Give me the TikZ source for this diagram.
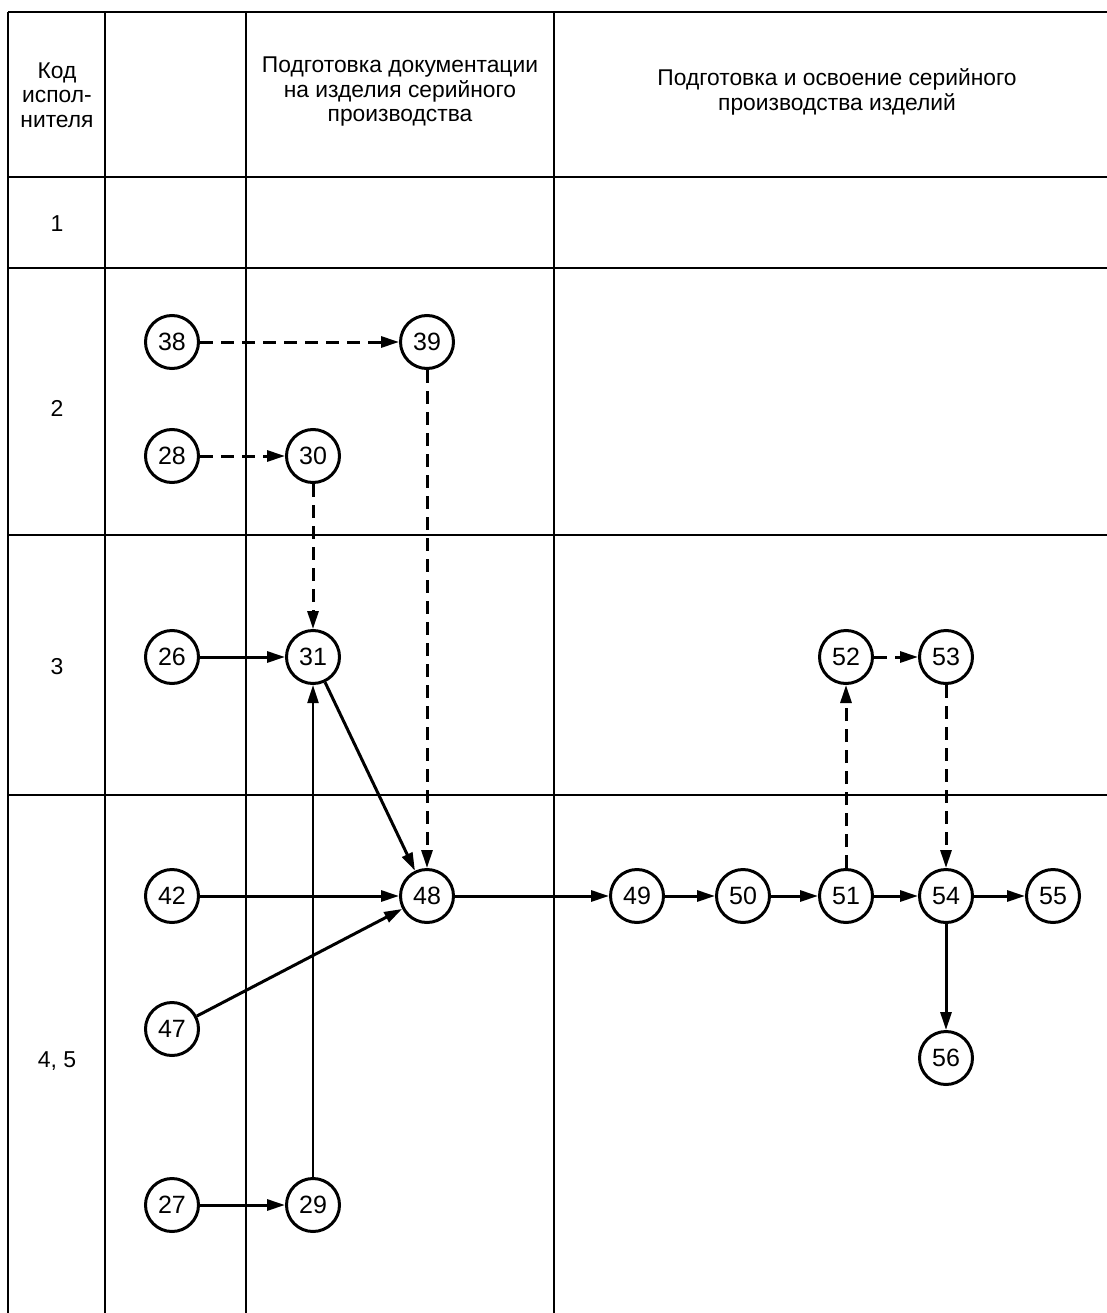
\documentclass[tikz,border=0pt]{standalone}
\usepackage{fontspec}
\setmainfont{Liberation Sans}
\usetikzlibrary{arrows.meta}
\begin{document}
\begin{tikzpicture}[x=1pt,y=-1pt,
  gridline/.style={line width=2.2pt},
  ev/.style={circle,draw,fill=white,line width=3pt,minimum size=53pt,inner sep=0pt,font=\fontsize{25}{25}\selectfont},
  arr/.style={line width=3pt,-{Triangle[length=18pt,width=11pt]}},
  thinarr/.style={line width=2.2pt,-{Triangle[length=18pt,width=11pt]}},
  darr/.style={arr,dash pattern=on 13pt off 8pt},
  hdr/.style={align=center,font=\fontsize{22.8}{24.5}\selectfont},
  lbl/.style={font=\fontsize{23}{25}\selectfont}]
\useasboundingbox (0,0) rectangle (1107,1313);
% grid
\foreach \x in {8,105,246,554} \draw[gridline] (\x,12) -- (\x,1325);
\foreach \y in {12,177,268,535,795} \draw[gridline] (8,\y) -- (1120,\y);
% headers
\node[hdr] (h1) at (57,95) {Код\\испол-\\нителя};
\node[hdr] (h3) at (400,92) {Подготовка документации\\на изделия серийного\\производства};
\node[hdr] (h4) at (837,92) {Подготовка и освоение серийного\\производства изделий};
% row labels
\node[lbl] (r1) at (57,224) {1};
\node[lbl] (r2) at (57,408) {2};
\node[lbl] (r3) at (57,667) {3};
\node[lbl] (r45) at (57,1061) {4, 5};
% events
\node[ev] (n38) at (172,342) {38};
\node[ev] (n39) at (427,342) {39};
\node[ev] (n28) at (172,456) {28};
\node[ev] (n30) at (313,456) {30};
\node[ev] (n26) at (172,657) {26};
\node[ev] (n31) at (313,657) {31};
\node[ev] (n52) at (846,657) {52};
\node[ev] (n53) at (946,657) {53};
\node[ev] (n42) at (172,896) {42};
\node[ev] (n48) at (427,896) {48};
\node[ev] (n49) at (637,896) {49};
\node[ev] (n50) at (743,896) {50};
\node[ev] (n51) at (846,896) {51};
\node[ev] (n54) at (946,896) {54};
\node[ev] (n55) at (1053,896) {55};
\node[ev] (n47) at (172,1029) {47};
\node[ev] (n56) at (946,1058) {56};
\node[ev] (n27) at (172,1205) {27};
\node[ev] (n29) at (313,1205) {29};
% connectors
\draw[darr] (n38) -- (n39);
\draw[darr] (n28) -- (n30);
\draw[darr] (n39) -- (n48);
\draw[darr] (n30) -- (n31);
\draw[arr] (n26) -- (n31);
\draw[thinarr] (n29) -- (n31);
\draw[arr] (n31) -- (n48);
\draw[arr] (n42) -- (n48);
\draw[arr] (n47) -- (n48);
\draw[arr] (n27) -- (n29);
\draw[arr] (n48) -- (n49);
\draw[arr] (n49) -- (n50);
\draw[arr] (n50) -- (n51);
\draw[arr] (n51) -- (n54);
\draw[arr] (n54) -- (n55);
\draw[darr] (n51) -- (n52);
\draw[darr] (n52) -- (n53);
\draw[darr] (n53) -- (n54);
\draw[arr] (n54) -- (n56);
\end{tikzpicture}
\end{document}
